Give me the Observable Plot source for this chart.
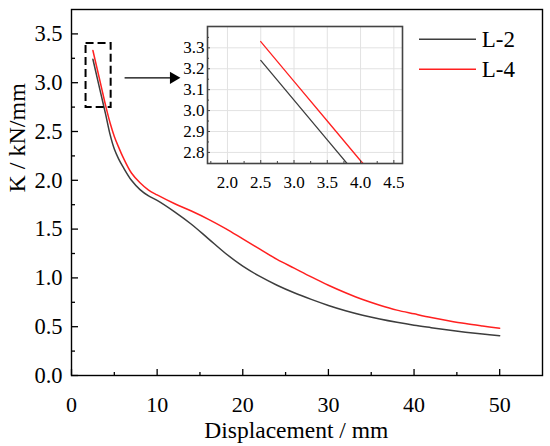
<!DOCTYPE html>
<html><head><meta charset="utf-8">
<script src="https://cdn.jsdelivr.net/npm/d3@7"></script>
<script src="https://cdn.jsdelivr.net/npm/@observablehq/plot@0.6"></script>
<style>
body{margin:0;background:#fff}
#wrap{position:relative;width:550px;height:446px;font-family:"Liberation Serif",serif}
#wrap > svg{position:absolute}
</style></head><body><div id="wrap"></div>
<script>
// ---- data ----
const seriesNames = ["L-2", "L-4"];
const seriesColors = ["#3d3d3d", "#ff2020"];
const displacementL2 = [2.5, 3.0, 3.5, 4.0, 4.5, 5.0, 5.5, 6, 7, 8, 9, 10, 12, 14, 16, 18, 20, 22, 24, 26, 28, 30, 32, 34, 36, 38, 40, 42, 44, 46, 48, 50];
const stiffnessL2    = [3.24, 3.05, 2.86, 2.67, 2.47, 2.32, 2.22, 2.14, 2.00, 1.905, 1.84, 1.795, 1.68, 1.55, 1.40, 1.25, 1.12, 1.015, 0.925, 0.848, 0.78, 0.718, 0.664, 0.618, 0.579, 0.545, 0.515, 0.49, 0.466, 0.444, 0.425, 0.408];
const displacementL4 = [2.5, 3.0, 3.5, 4.0, 4.5, 5.0, 5.5, 6, 7, 8, 9, 10, 12, 14, 16, 18, 20, 22, 24, 26, 28, 30, 32, 34, 36, 38, 40, 42, 44, 46, 48, 50];
const stiffnessL4    = [3.33, 3.14, 2.95, 2.76, 2.59, 2.45, 2.34, 2.24, 2.075, 1.975, 1.90, 1.85, 1.762, 1.685, 1.60, 1.505, 1.40, 1.295, 1.19, 1.10, 1.01, 0.925, 0.848, 0.778, 0.72, 0.67, 0.632, 0.595, 0.562, 0.532, 0.507, 0.484];

const xDomain = [0, 55];
const yDomain = [0, 3.75];
const xTicks = [0, 10, 20, 30, 40, 50];
const xMinorTicks = [5, 15, 25, 35, 45];
const yTicks = [0, 0.5, 1.0, 1.5, 2.0, 2.5, 3.0, 3.5];
const yMinorTicks = [0.25, 0.75, 1.25, 1.75, 2.25, 2.75, 3.25];

const insetXDomain = [1.70, 4.63];
const insetYDomain = [2.747, 3.402];
const insetXTicks = [2.0, 2.5, 3.0, 3.5, 4.0, 4.5];
const insetXMinor = [1.75, 2.25, 2.75, 3.25, 3.75, 4.25];
const insetYTicks = [2.8, 2.9, 3.0, 3.1, 3.2, 3.3];
const insetYMinor = [2.85, 2.95, 3.05, 3.15, 3.25, 3.35];

const arrowFromX = [6.2];
const arrowToX = [11.9];
const arrowY = [3.05];

const xLabel = "Displacement / mm";
const yLabel = "K / kN/mm";

// ---- build ----
const rows = [];
displacementL2.forEach((x, i) => rows.push({series: seriesNames[0], x, y: stiffnessL2[i]}));
displacementL4.forEach((x, i) => rows.push({series: seriesNames[1], x, y: stiffnessL4[i]}));

const font = "Liberation Serif";
const fmt0 = d3.format("d");
const fmt1 = d3.format(".1f");
const wrap = document.getElementById("wrap");
const xMid = d3.mean(d3.extent(displacementL2));
const T = {fontFamily: font, fill: "#000", lineAnchor: "middle"};

const main = Plot.plot({
  width: 550, height: 446,
  marginLeft: 71, marginRight: 8, marginTop: 9, marginBottom: 71,
  style: {fontFamily: font, color: "#000", background: "transparent"},
  x: {domain: xDomain},
  y: {domain: yDomain},
  color: {domain: seriesNames, range: seriesColors},
  marks: [
    Plot.line(rows, {x: "x", y: "y", stroke: "series", strokeWidth: 1.5, curve: "catmull-rom"}),
    Plot.rect([0], {x1: [insetXDomain[0]], x2: [insetXDomain[1]], y1: [insetYDomain[0]], y2: [insetYDomain[1]],
      fill: "none", stroke: "#000", strokeWidth: 2, strokeDasharray: "8,4"}),
    Plot.link([0], {x1: arrowFromX, x2: arrowToX, y1: arrowY, y2: arrowY, stroke: "#000", strokeWidth: 1.3}),
    Plot.dot([0], {x: arrowToX, y: arrowY, symbol: "triangle", r: 4.5, rotate: 90, fill: "#000", stroke: "none"}),
    Plot.axisX({ticks: xTicks, tickSize: -6, tickFormat: () => "", label: null, strokeWidth: 1.3}),
    Plot.axisX({ticks: xMinorTicks, tickSize: -3, tickFormat: () => "", label: null, strokeWidth: 1.3}),
    Plot.axisY({ticks: yTicks, tickSize: -7, tickFormat: () => "", label: null, strokeWidth: 1.3}),
    Plot.axisY({ticks: yMinorTicks, tickSize: -4, tickFormat: () => "", label: null, strokeWidth: 1.3}),
    Plot.text(xTicks, {x: d => d, frameAnchor: "bottom", dy: 29.5, fontSize: 22, text: fmt0, ...T}),
    Plot.text(yTicks, {y: d => d, frameAnchor: "left", dx: -9, textAnchor: "end", fontSize: 22.5, text: fmt1, ...T}),
    Plot.text([xLabel], {x: [xMid], frameAnchor: "bottom", dy: 55, fontSize: 23.5, text: d => d, ...T}),
    Plot.text([yLabel], {frameAnchor: "left", dx: -54, rotate: -90, fontSize: 24, text: d => d, ...T}),
    Plot.frame({stroke: "#000", strokeWidth: 1.4})
  ]
});
main.style.left = "0px"; main.style.top = "0px";
wrap.appendChild(main);

const inset = Plot.plot({
  width: 237, height: 169,
  marginLeft: 40, marginRight: 2, marginTop: 2, marginBottom: 30,
  style: {fontFamily: font, color: "#000", background: "transparent"},
  x: {domain: insetXDomain},
  y: {domain: insetYDomain},
  color: {domain: seriesNames, range: seriesColors},
  marks: [
    Plot.frame({fill: "#fff", stroke: "none"}),
    Plot.gridX(insetXTicks, {stroke: "#e2e2e2", strokeOpacity: 1}),
    Plot.gridY(insetYTicks, {stroke: "#e2e2e2", strokeOpacity: 1}),
    Plot.line(rows, {x: "x", y: "y", stroke: "series", strokeWidth: 1.3, clip: true}),
    Plot.axisX({ticks: insetXTicks, tickSize: -3, tickFormat: () => "", label: null, stroke: "#444"}),
    Plot.axisX({ticks: insetXMinor, tickSize: -2, tickFormat: () => "", label: null, stroke: "#444"}),
    Plot.axisY({ticks: insetYTicks, tickSize: -3, tickFormat: () => "", label: null, stroke: "#444"}),
    Plot.axisY({ticks: insetYMinor, tickSize: -2, tickFormat: () => "", label: null, stroke: "#444"}),
    Plot.text(insetXTicks, {x: d => d, frameAnchor: "bottom", dy: 19.5, fontSize: 17, text: fmt1, ...T}),
    Plot.text(insetYTicks, {y: d => d, frameAnchor: "left", dx: -3, textAnchor: "end", fontSize: 17, text: fmt1, ...T}),
    Plot.frame({stroke: "#444", strokeWidth: 1.6})
  ]
});
inset.style.left = "167px"; inset.style.top = "24px";
wrap.appendChild(inset);

// legend
const leg = d3.create("svg").attr("width", 120).attr("height", 70)
  .style("left", "414px").style("top", "20px").style("position", "absolute");
seriesNames.forEach((name, i) => {
  const cy = 19.3 + i * 30;
  leg.append("line").attr("x1", 5).attr("x2", 62).attr("y1", cy).attr("y2", cy)
    .attr("stroke", seriesColors[i]).attr("stroke-width", 1.5);
  leg.append("text").attr("x", 67.7).attr("y", cy + 7.6).attr("font-family", font)
    .attr("font-size", 23).attr("fill", "#000").text(name);
});
wrap.appendChild(leg.node());
</script></body></html>
